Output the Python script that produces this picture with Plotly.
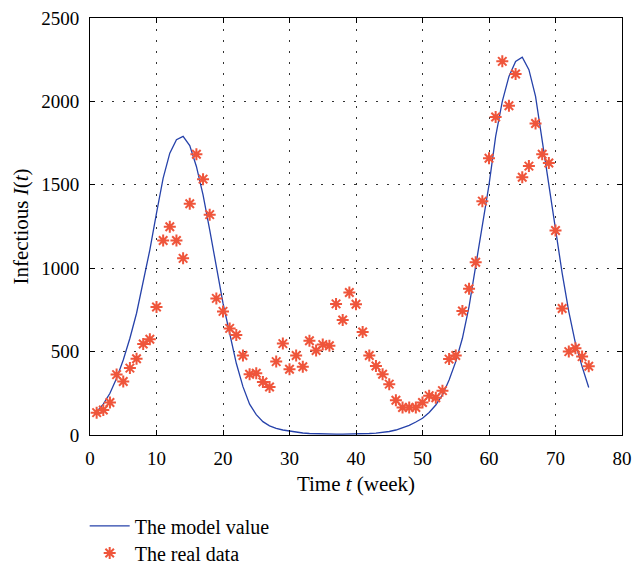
import plotly.graph_objects as go

weeks = list(range(1, 76))

model_value = [140, 185, 250, 340, 450, 580, 730, 910, 1110, 1330,
               1540, 1690, 1770, 1790, 1735, 1610, 1440, 1230, 1000, 790,
               610, 430, 290, 185, 122, 80, 55, 40, 30, 23,
               17, 12, 9, 7, 6, 5, 5, 5, 5, 6,
               7, 9, 11, 15, 21, 30, 42, 58, 78, 100,
               135, 180, 240, 330, 440, 580, 770, 1010, 1240, 1500,
               1790, 2000, 2150, 2240, 2265, 2190, 2030, 1760, 1510, 1250,
               970, 740, 550, 410, 285]

real_data = [134, 150, 195, 362, 321, 401, 457, 546, 574, 767,
             1166, 1248, 1166, 1059, 1386, 1683, 1534, 1321, 819, 741,
             639, 600, 477, 364, 370, 318, 288, 440, 548, 394,
             477, 409, 565, 507, 542, 535, 786, 689, 854, 784,
             617, 477, 414, 364, 305, 208, 165, 165, 165, 195,
             236, 223, 266, 455, 477, 743, 877, 1036, 1402, 1659,
             1906, 2240, 1974, 2164, 1545, 1612, 1867, 1683, 1631, 1226,
             758, 500, 520, 470, 412]

x_ticks = [0, 10, 20, 30, 40, 50, 60, 70, 80]
y_ticks = [0, 500, 1000, 1500, 2000, 2500]

FONT = "Liberation Serif"

fig = go.Figure()
fig.add_trace(go.Scatter(
    x=weeks, y=model_value, mode="lines", name="The model value",
    line=dict(color="rgb(38,66,170)", width=1.3), legend="legend"))
fig.add_trace(go.Scatter(
    x=weeks, y=real_data, mode="markers", name="The real data",
    marker=dict(symbol="asterisk-open", size=10,
                line=dict(color="rgb(250,20,35)", width=2)),
    legend="legend2"))

axis_common = dict(
    showline=True, linecolor="black", linewidth=1, mirror="ticks",
    ticks="inside", ticklen=5, tickcolor="black",
    showgrid=True, gridcolor="rgb(50,50,50)", gridwidth=1, griddash="2px,9px",
    zeroline=False,
    tickfont=dict(family=FONT, size=19, color="black"),
)

fig.update_xaxes(range=[0, 80], tickvals=x_ticks, ticktext=[str(v) for v in x_ticks],
                 title=dict(text="Time <i>t</i> (week)", font=dict(family=FONT, size=21, color="black"),
                            standoff=8),
                 ticklabelstandoff=6, **axis_common)
fig.update_yaxes(range=[0, 2500], tickvals=y_ticks, ticktext=[str(v) for v in y_ticks],
                 title=dict(text="Infectious <i>I</i>(<i>t</i>)", font=dict(family=FONT, size=21, color="black"),
                            standoff=6),
                 ticklabelstandoff=6, **axis_common)

legend_common = dict(
    bgcolor="rgba(0,0,0,0)", borderwidth=0,
    font=dict(family=FONT, size=20, color="black"),
    xanchor="left", yanchor="middle", itemwidth=40,
)

fig.update_layout(
    width=640, height=567,
    margin=dict(l=90, r=18, t=18, b=132, autoexpand=False),
    paper_bgcolor="white", plot_bgcolor="white",
    showlegend=True,
    legend=dict(x=-0.01, y=-0.218, **legend_common),
    legend2=dict(x=-0.01, y=-0.283, **legend_common),
)

fig.write_html("out.html")
